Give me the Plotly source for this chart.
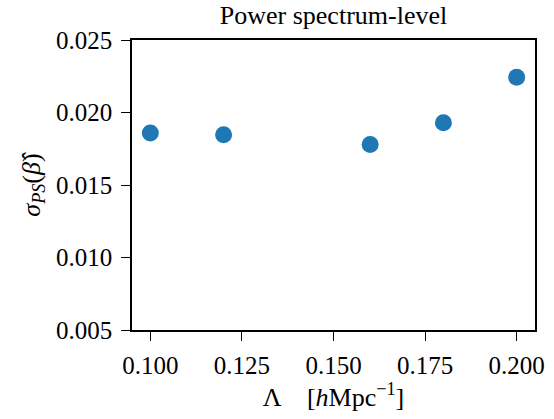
import plotly.graph_objects as go

cutoff = [0.10, 0.12, 0.16, 0.18, 0.20]
sigma_ps = [0.01859, 0.01847, 0.01779, 0.01929, 0.02243]
x_ticks = [0.100, 0.125, 0.150, 0.175, 0.200]
y_ticks = [0.005, 0.010, 0.015, 0.020, 0.025]

FONT = "Liberation Serif"

fig = go.Figure(go.Scatter(
    x=cutoff, y=sigma_ps, mode="markers",
    marker=dict(color="#1f77b4", size=17, line=dict(width=0)),
))

axis_common = dict(
    showline=True, linecolor="black", linewidth=1.6, mirror=True,
    ticks="outside", ticklen=9, tickwidth=1.4, tickcolor="black",
    showgrid=False, zeroline=False, automargin=False,
    tickfont=dict(family=FONT, size=25, color="black"),
)

fig.update_layout(
    width=554, height=419,
    margin=dict(l=132, r=19, t=40, b=89),
    paper_bgcolor="white", plot_bgcolor="white",
    showlegend=False,
    title=dict(text="Power spectrum-level", x=(132 + 535) / 2 / 554, xanchor="center",
               y=1 - 15 / 419, yanchor="middle",
               font=dict(family=FONT, size=26, color="black")),
    xaxis=dict(range=[0.095, 0.205], tickvals=x_ticks,
               ticktext=[f"{v:.3f}" for v in x_ticks],
               ticklabelstandoff=3,
               title=dict(text="Λ    [<i>h</i>Mpc<sup>−1</sup>]", standoff=2,
                          font=dict(family=FONT, size=26, color="black")),
               **axis_common),
    yaxis=dict(range=[0.005, 0.025], tickvals=y_ticks,
               ticktext=[f"{v:.3f}" for v in y_ticks],
               ticklabelstandoff=4,
               title=dict(text="<i>σ</i><sub><i>PS</i></sub>(<i>β̂</i>)", standoff=8,
                          font=dict(family=FONT, size=26, color="black")),
               **axis_common),
)

fig.write_html("out.html", config={"displayModeBar": False},
               post_script="document.body.style.margin='0';document.body.style.overflow='hidden';")
